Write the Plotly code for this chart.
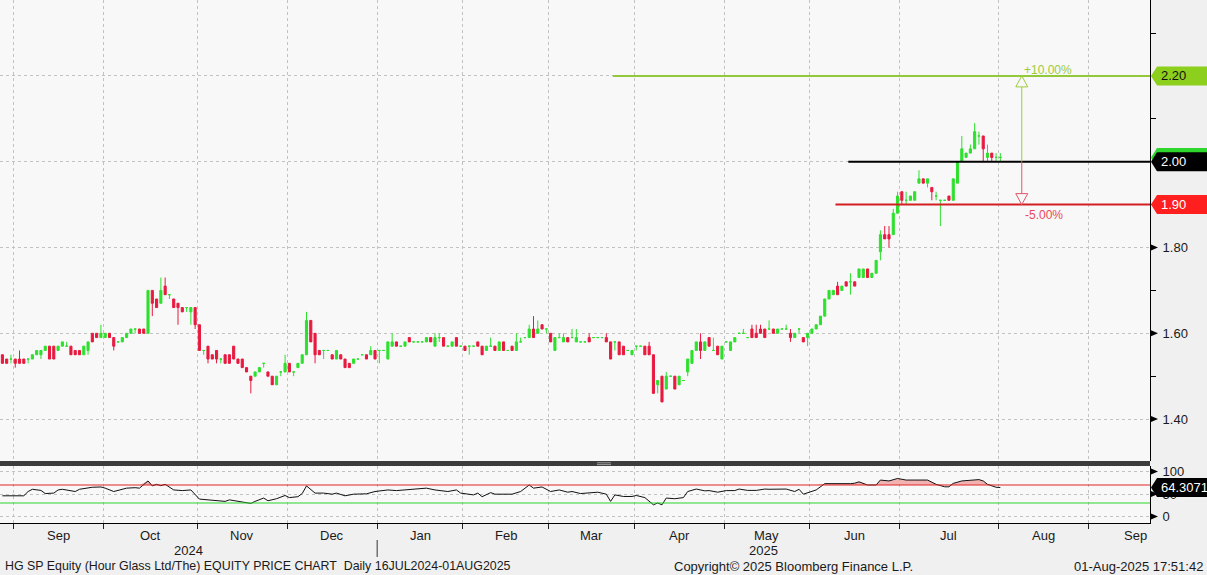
import numpy as np
import pandas as pd
import plotly.graph_objects as go

# ------------------------------------------------------------------ data
# Daily candles, HG SP (Hour Glass Ltd), visible window 28-Aug-2024 .. 01-Aug-2025
open_ = [1.55,1.54,1.54,1.54,1.54,1.54,1.54,1.54,1.55,1.55,1.56,1.57,1.57,1.56,1.57,1.57,1.57,1.56,1.56,1.55,
         1.56,1.60,1.60,1.59,1.59,1.60,1.59,1.58,1.58,1.59,1.60,1.61,1.61,1.61,1.60,1.70,1.68,1.67,1.71,1.69,
         1.68,1.67,1.66,1.66,1.65,1.66,1.62,1.56,1.57,1.55,1.56,1.54,1.55,1.55,1.57,1.54,1.54,1.52,1.50,1.50,
         1.51,1.53,1.51,1.50,1.48,1.51,1.51,1.53,1.51,1.52,1.53,1.55,1.63,1.60,1.56,1.56,1.56,1.55,1.54,1.55,
         1.54,1.53,1.53,1.54,1.55,1.55,1.55,1.56,1.56,1.56,1.54,1.57,1.58,1.57,1.57,1.59,1.58,1.58,1.58,1.58,
         1.59,1.57,1.59,1.59,1.57,1.57,1.59,1.57,1.57,1.57,1.57,1.58,1.57,1.56,1.57,1.57,1.56,1.58,1.56,1.57,
         1.56,1.58,1.59,1.59,1.61,1.60,1.62,1.61,1.60,1.56,1.59,1.58,1.59,1.59,1.58,1.58,1.58,1.59,1.59,1.59,
         1.59,1.59,1.58,1.58,1.58,1.57,1.56,1.55,1.57,1.57,1.57,1.57,1.55,1.48,1.50,1.47,1.50,1.50,1.48,1.49,
         1.51,1.53,1.56,1.58,1.56,1.59,1.56,1.57,1.54,1.58,1.56,1.58,1.60,1.60,1.59,1.61,1.60,1.61,1.61,1.61,
         1.61,1.60,1.61,1.61,1.60,1.59,1.61,1.59,1.59,1.60,1.61,1.62,1.64,1.68,1.69,1.71,1.70,1.72,1.72,1.72,
         1.73,1.73,1.75,1.73,1.74,1.79,1.83,1.83,1.83,1.88,1.93,1.91,1.91,1.91,1.95,1.96,1.95,1.94,1.92,1.91,
         1.91,1.92,1.91,1.95,2.00,2.01,2.02,2.03,2.06,2.06,2.01,2.02,2.01,2.01]
high = [1.55,1.54,1.55,1.54,1.56,1.54,1.54,1.55,1.56,1.56,1.57,1.57,1.57,1.57,1.58,1.58,1.57,1.56,1.56,1.57,
        1.58,1.60,1.60,1.62,1.60,1.60,1.59,1.58,1.59,1.60,1.61,1.61,1.61,1.61,1.70,1.70,1.68,1.73,1.73,1.69,
        1.68,1.67,1.66,1.66,1.66,1.66,1.62,1.56,1.57,1.55,1.56,1.54,1.55,1.55,1.57,1.54,1.54,1.52,1.50,1.51,
        1.52,1.53,1.51,1.50,1.50,1.51,1.55,1.53,1.51,1.53,1.55,1.65,1.63,1.60,1.56,1.56,1.56,1.55,1.56,1.55,
        1.54,1.53,1.54,1.54,1.55,1.55,1.57,1.56,1.56,1.56,1.58,1.60,1.58,1.57,1.58,1.59,1.58,1.58,1.58,1.59,
        1.59,1.60,1.60,1.59,1.57,1.58,1.59,1.57,1.57,1.57,1.57,1.58,1.57,1.57,1.59,1.57,1.58,1.58,1.56,1.57,
        1.60,1.59,1.59,1.62,1.64,1.63,1.62,1.61,1.60,1.59,1.60,1.60,1.59,1.61,1.61,1.58,1.58,1.60,1.59,1.59,
        1.59,1.60,1.58,1.58,1.58,1.57,1.56,1.56,1.57,1.57,1.57,1.58,1.55,1.49,1.50,1.51,1.50,1.50,1.50,1.49,
        1.54,1.56,1.58,1.60,1.58,1.59,1.59,1.57,1.57,1.58,1.58,1.59,1.60,1.61,1.59,1.62,1.62,1.62,1.61,1.63,
        1.61,1.61,1.61,1.62,1.61,1.60,1.61,1.59,1.60,1.61,1.62,1.64,1.68,1.70,1.70,1.72,1.71,1.72,1.74,1.72,
        1.75,1.75,1.75,1.74,1.77,1.84,1.85,1.85,1.89,1.93,1.93,1.93,1.92,1.93,1.98,1.96,1.96,1.94,1.93,1.91,
        1.91,1.92,1.96,2.00,2.06,2.02,2.04,2.09,2.07,2.06,2.04,2.02,2.02,2.02]
low = [1.53,1.53,1.53,1.52,1.53,1.53,1.53,1.54,1.55,1.54,1.56,1.54,1.54,1.56,1.57,1.57,1.55,1.55,1.55,1.55,
       1.55,1.58,1.59,1.59,1.59,1.59,1.56,1.58,1.58,1.59,1.60,1.60,1.60,1.60,1.60,1.64,1.66,1.67,1.69,1.68,
       1.66,1.62,1.65,1.65,1.62,1.61,1.56,1.55,1.53,1.54,1.53,1.53,1.53,1.53,1.54,1.53,1.52,1.51,1.46,1.50,
       1.51,1.52,1.50,1.48,1.48,1.50,1.51,1.51,1.50,1.52,1.53,1.55,1.58,1.53,1.55,1.54,1.56,1.54,1.54,1.54,
       1.52,1.52,1.53,1.54,1.55,1.54,1.55,1.54,1.53,1.56,1.54,1.57,1.57,1.57,1.57,1.58,1.58,1.58,1.58,1.58,
       1.58,1.57,1.58,1.57,1.57,1.57,1.57,1.57,1.56,1.55,1.57,1.57,1.55,1.56,1.57,1.56,1.56,1.56,1.56,1.56,
       1.56,1.58,1.59,1.59,1.59,1.60,1.61,1.60,1.58,1.56,1.59,1.58,1.58,1.59,1.58,1.58,1.58,1.58,1.59,1.59,
       1.59,1.58,1.54,1.56,1.55,1.55,1.56,1.55,1.56,1.57,1.55,1.55,1.46,1.46,1.44,1.47,1.50,1.47,1.48,1.49,
       1.50,1.53,1.56,1.54,1.56,1.57,1.56,1.55,1.54,1.58,1.56,1.58,1.60,1.60,1.59,1.59,1.59,1.60,1.59,1.61,
       1.60,1.60,1.61,1.61,1.58,1.59,1.60,1.58,1.57,1.60,1.61,1.62,1.64,1.68,1.69,1.69,1.70,1.71,1.69,1.71,
       1.73,1.73,1.73,1.73,1.74,1.77,1.82,1.80,1.83,1.88,1.90,1.90,1.91,1.91,1.95,1.95,1.94,1.91,1.91,1.85,
       1.91,1.91,1.91,1.95,2.00,2.01,2.02,2.03,2.04,2.00,2.00,2.00,2.00,2.00]
close = [1.53,1.53,1.54,1.53,1.53,1.53,1.54,1.55,1.56,1.56,1.57,1.54,1.54,1.57,1.58,1.57,1.55,1.55,1.55,1.57,
         1.58,1.58,1.59,1.60,1.60,1.59,1.57,1.58,1.59,1.60,1.61,1.61,1.60,1.60,1.70,1.67,1.66,1.70,1.69,1.69,
         1.66,1.66,1.65,1.66,1.66,1.62,1.56,1.56,1.54,1.54,1.54,1.54,1.53,1.53,1.54,1.53,1.52,1.51,1.49,1.51,
         1.52,1.53,1.50,1.48,1.50,1.51,1.53,1.51,1.51,1.53,1.55,1.63,1.58,1.55,1.55,1.56,1.56,1.54,1.56,1.54,
         1.52,1.52,1.54,1.54,1.55,1.54,1.56,1.54,1.56,1.56,1.58,1.58,1.57,1.57,1.58,1.58,1.58,1.58,1.58,1.59,
         1.58,1.59,1.59,1.57,1.57,1.58,1.57,1.57,1.56,1.57,1.57,1.57,1.55,1.57,1.57,1.56,1.58,1.56,1.56,1.56,
         1.58,1.58,1.59,1.61,1.59,1.61,1.61,1.61,1.58,1.59,1.59,1.59,1.58,1.59,1.59,1.58,1.58,1.58,1.59,1.59,
         1.59,1.58,1.54,1.58,1.55,1.55,1.56,1.56,1.57,1.57,1.55,1.55,1.46,1.49,1.44,1.50,1.50,1.47,1.50,1.49,
         1.54,1.56,1.58,1.56,1.58,1.57,1.56,1.55,1.57,1.58,1.58,1.59,1.60,1.60,1.59,1.59,1.59,1.60,1.59,1.61,
         1.60,1.61,1.61,1.61,1.59,1.60,1.61,1.58,1.60,1.61,1.62,1.64,1.68,1.70,1.70,1.69,1.71,1.71,1.72,1.71,
         1.75,1.75,1.73,1.74,1.77,1.83,1.82,1.82,1.88,1.92,1.91,1.91,1.92,1.93,1.96,1.95,1.96,1.93,1.92,1.91,
         1.91,1.91,1.96,2.00,2.03,2.02,2.03,2.07,2.06,2.03,2.02,2.01,2.01,2.01]

# RSI(14): candle number -> value
rsi_day = [0,5,6,7,9,10,12,13,14,16,17,18,20,21,23,24,26,27,29,31,32,34,35,36,37,38,39,40,42,44,
           46,48,50,52,53,55,58,59,61,62,64,66,67,69,70,71,73,75,77,78,80,82,85,87,90,92,95,98,99,101,
           104,106,107,110,111,112,114,115,119,121,123,124,126,128,130,132,133,135,138,139,141,142,143,145,147,148,150,152,153,154,
           155,157,159,160,162,164,165,167,169,171,172,174,176,178,179,181,183,185,186,187,189,190,192,194,196,198,199,200,202,204,
           205,207,209,211,213,215,216,218,220,221,222,224,226,228,229,230,232,233]
rsi_value = [46,46,55.5,60.5,58,51,52,59,60.5,57,55.5,60.5,63,65,65.6,63,55.5,58,63,64,63,79,68,71.5,68.5,71.5,66,59,57.6,59,
             38.7,37,35,33.6,37,33.6,29,33.6,41,35,39.5,46.7,42,44,51,68,52,52,49.6,52,46,49.6,50.4,55.5,59,57.6,60,61,63,59,
             55.5,59,52,48,52,44,53,49.6,49.6,55.5,70,63,65.6,55.5,59,54,55.5,51,54,54,49.6,33.6,48,44.5,44.5,46.7,42,26,30,26,
             41,39.5,42,55.5,61,57,57.6,54,57.6,57.6,61,58,58,61,60.5,60.5,61,55.5,60.5,49.6,55.5,59,73,73,71.5,73,74,77,70,70,
             81,79,84.5,81,81,82,81,71.5,66,66,73.6,79,80,82,79,71.5,65,64.3071]

sg_holidays = ["2024-10-31", "2024-12-25", "2025-01-01", "2025-01-29", "2025-01-30",
               "2025-03-31", "2025-04-18", "2025-05-01", "2025-05-12"]
month_names = ["Jan", "Feb", "Mar", "Apr", "May", "Jun", "Jul", "Aug", "Sep", "Oct", "Nov", "Dec"]

# user-drawn levels: (price, start date, line colour, label text, label text colour, label fill)
levels = [(2.20, "2025-03-24", "#93c83a", "2.20", "#111111", "#8ccf1c"),
          (2.00, "2025-06-13", "#000000", "2.00", "#ffffff", "#000000"),
          (1.90, "2025-06-10", "#d41f22", "1.90", "#ffffff", "#ff1f1f")]
arrow_date = "2025-08-08"
arrow_up_text, arrow_dn_text = "+10.00%", "-5.00%"
rsi_upper, rsi_lower = 70, 30
rsi_last_text = "64.3071"

footer_left = "HG SP Equity (Hour Glass Ltd/The) EQUITY PRICE CHART\u00a0\u00a0Daily 16JUL2024-01AUG2025"
footer_mid = "Copyright\u00a9 2025 Bloomberg Finance L.P."
footer_right = "01-Aug-2025 17:51:42"

# ------------------------------------------------------------------ calendar (trading-day axis)
cal = pd.bdate_range("2024-08-28", "2025-10-31")
cal = cal[~cal.isin(pd.to_datetime(sg_holidays))]
N = len(close)
days = np.arange(N)
pos_of = {d.strftime("%Y-%m-%d"): i for i, d in enumerate(cal)}

view = [-0.56, 267.94]          # visible window in trading-day units

bounds = []
for i in range(1, len(cal)):
    if cal[i].month != cal[i - 1].month:
        bounds.append((i - 0.5, cal[i]))
bvals = [b for b, _ in bounds]

# ------------------------------------------------------------------ figure
GREEN = "#2ee02e"
RED = "#e8193f"
FONT = "Liberation Sans, Arial, sans-serif"
H_PLOT = 523.0


def py(p):  # pixel row -> paper y
    return (H_PLOT - p) / H_PLOT


fig = go.Figure()

up = [i for i in range(N) if close[i] >= open_[i]]
dn = [i for i in range(N) if close[i] < open_[i]]
for idxs, col in ((up, GREEN), (dn, RED)):
    fig.add_trace(go.Candlestick(
        x=[days[i] for i in idxs],
        open=[open_[i] for i in idxs], high=[high[i] for i in idxs],
        low=[low[i] for i in idxs], close=[close[i] for i in idxs],
        increasing=dict(line=dict(color=col, width=1), fillcolor=col),
        decreasing=dict(line=dict(color=col, width=1), fillcolor=col),
        whiskerwidth=0, hoverinfo="skip", xaxis="x", yaxis="y"))

# RSI panel
fig.add_trace(go.Scatter(x=rsi_day, y=[rsi_upper] * len(rsi_day), mode="lines",
                         line=dict(width=0, color="rgba(0,0,0,0)"), xaxis="x2", yaxis="y2", hoverinfo="skip"))
fig.add_trace(go.Scatter(x=rsi_day, y=[max(v, rsi_upper) for v in rsi_value], mode="lines",
                         line=dict(width=0, color="rgba(0,0,0,0)"), fill="tonexty",
                         fillcolor="rgba(240,140,140,0.65)", xaxis="x2", yaxis="y2", hoverinfo="skip"))
fig.add_trace(go.Scatter(x=rsi_day, y=rsi_value, mode="lines", line=dict(color="#111111", width=1),
                         xaxis="x2", yaxis="y2", hoverinfo="skip"))

grid = dict(showgrid=True, gridcolor="#c2c2c2", griddash="dot", gridwidth=1, zeroline=False)

main_lo = 1.6 - (461 - 333.3) / 429.0
main_hi = 1.6 + 333.3 / 429.0
rsi_lo = rsi_lower - (523 - 503) / 0.45
rsi_hi = rsi_upper + (485 - 466) / 0.45

fig.update_layout(
    width=1207, height=575, margin=dict(l=0, r=57, t=0, b=52),
    paper_bgcolor="#f0f0f0", plot_bgcolor="#f8f8f8", showlegend=False, boxgap=0.3,
    font=dict(family=FONT, size=13, color="#1a1a1a"),
    xaxis=dict(domain=[0, 1], anchor="y", range=view, tickvals=bvals, showticklabels=False,
               ticks="", rangeslider=dict(visible=False), fixedrange=True, **grid),
    yaxis=dict(domain=[py(461), 1], anchor="x", side="right", range=[main_lo, main_hi],
               tickvals=[1.4, 1.6, 1.8, 2.0, 2.2], ticktext=["1.40", "1.60", "1.80", "", ""],
               ticks="", showline=True, linecolor="#000000", linewidth=1, ticklabelstandoff=9,
               minor=dict(tickvals=[1.5, 1.7, 1.9, 2.1, 2.3], ticks="outside", ticklen=5,
                          tickcolor="#000000", showgrid=False),
               tickfont=dict(size=13, color="#1a1a1a"), automargin=False, **grid),
    xaxis2=dict(domain=[0, 1], anchor="y2", range=view, tickvals=bvals, showticklabels=False,
                ticks="outside", ticklen=5, tickcolor="#222222", showline=True, linecolor="#000000",
                linewidth=1, matches="x", **grid),
    yaxis2=dict(domain=[0, py(466)], anchor="x2", side="right", range=[rsi_lo, rsi_hi],
                tickvals=[0, 50, 100], ticktext=["0", "50", "100"], ticks="", showline=True,
                linecolor="#000000", linewidth=1, ticklabelstandoff=9,
                tickfont=dict(size=13, color="#1a1a1a"), automargin=False, **grid),
)

shapes = []
annotations = []

# separator bar between panels
shapes.append(dict(type="rect", xref="paper", yref="paper", x0=0, x1=1, y0=py(466), y1=py(461),
                   fillcolor="#3c3c3c", line=dict(width=0), layer="above"))
for yy in (462.8, 464.6):
    shapes.append(dict(type="line", xref="paper", yref="paper", x0=597 / 1150, x1=611 / 1150,
                       y0=py(yy), y1=py(yy), line=dict(color="#9a9a9a", width=1), layer="above"))

# RSI reference lines
shapes.append(dict(type="line", xref="paper", yref="y2", x0=0, x1=1, y0=rsi_upper, y1=rsi_upper,
                   line=dict(color="#e02424", width=1)))
shapes.append(dict(type="line", xref="paper", yref="y2", x0=0, x1=1, y0=rsi_lower, y1=rsi_lower,
                   line=dict(color="#2ad42a", width=1)))

# drawn horizontal levels
for price, start, col, txt, tcol, bcol in levels:
    shapes.append(dict(type="line", xref="x", yref="y", x0=pos_of[start] - 0.5, x1=view[1],
                       y0=price, y1=price, line=dict(color=col, width=2)))

# measurement arrow
ax = pos_of[arrow_date]
head = 11 / 429.0
p_hi, p_mid, p_lo = levels[0][0], levels[1][0], levels[2][0]
shapes.append(dict(type="line", xref="x", yref="y", x0=ax, x1=ax, y0=p_hi - head, y1=p_mid,
                   line=dict(color="#9ccc3c", width=1)))
shapes.append(dict(type="line", xref="x", yref="y", x0=ax, x1=ax, y0=p_mid, y1=p_lo + head,
                   line=dict(color="#e0566a", width=1)))
shapes.append(dict(type="path", xref="x", yref="y", xsizemode="pixel", ysizemode="pixel",
                   xanchor=ax, yanchor=p_hi, path="M0,0 L-6,-11 L6,-11 Z",
                   fillcolor="#f8f8f8", line=dict(color="#9ccc3c", width=1)))
shapes.append(dict(type="path", xref="x", yref="y", xsizemode="pixel", ysizemode="pixel",
                   xanchor=ax, yanchor=p_lo, path="M0,0 L-6,11 L6,11 Z",
                   fillcolor="#f8f8f8", line=dict(color="#e0566a", width=1)))
annotations.append(dict(xref="x", yref="y", x=ax, y=p_hi, text=arrow_up_text, showarrow=False,
                        xanchor="left", yanchor="bottom", xshift=0, yshift=-3,
                        font=dict(size=12, color="#9ccc3c", family=FONT)))
annotations.append(dict(xref="x", yref="y", x=ax, y=p_lo, text=arrow_dn_text, showarrow=False,
                        xanchor="left", yanchor="top", xshift=1, yshift=-1,
                        font=dict(size=12, color="#e8485a", family=FONT)))

# axis tick arrowheads
for yref, vals in (("y", [1.4, 1.6, 1.8]), ("y2", [0, 50, 100])):
    for v in vals:
        shapes.append(dict(type="path", xref="paper", yref=yref, xsizemode="pixel", ysizemode="pixel",
                           xanchor=1, yanchor=v, path="M1,-3 L1,3 L8,0 Z",
                           fillcolor="#000000", line=dict(width=0), layer="above"))

# right-hand value labels
BOX = "M1,0 L7,9.5 L57,9.5 L57,-9.5 L7,-9.5 Z"


def value_label(yref, v, text, fill, tcol):
    shapes.append(dict(type="path", xref="paper", yref=yref, xsizemode="pixel", ysizemode="pixel",
                       xanchor=1, yanchor=v, path=BOX, fillcolor=fill, line=dict(width=0), layer="above"))
    if text:
        annotations.append(dict(xref="paper", yref=yref, x=1 + 9 / 1150, y=v, text=text, showarrow=False,
                                xanchor="left", yanchor="middle", font=dict(size=13, color=tcol, family=FONT)))


value_label("y", close[-1], "", "#2ed62e", "#ffffff")      # last price tab
for price, start, col, txt, tcol, bcol in levels:
    value_label("y", price, txt, bcol, tcol)
value_label("y2", rsi_value[-1], rsi_last_text, "#000000", "#ffffff")

# month / year labels
for k in range(len(bounds) - 1):
    mid = (bounds[k][0] + bounds[k + 1][0]) / 2
    if view[0] < mid < view[1]:
        annotations.append(dict(xref="x2", yref="paper", x=mid, y=py(526), text=month_names[bounds[k][1].month - 1],
                                showarrow=False, xanchor="center", yanchor="top",
                                font=dict(size=13, color="#1a1a1a", family=FONT)))
jan = [b for b, d in bounds if d.month == 1][0]
for yr, (a, b) in ((2024, (view[0], jan)), (2025, (jan, view[1]))):
    annotations.append(dict(xref="x2", yref="paper", x=(a + b) / 2, y=py(541), text=str(yr), showarrow=False,
                            xanchor="center", yanchor="top", font=dict(size=13, color="#1a1a1a", family=FONT)))
shapes.append(dict(type="line", xref="x2", yref="paper", x0=jan, x1=jan, y0=py(540), y1=py(557),
                   line=dict(color="#333333", width=1)))

# footer
annotations.append(dict(xref="paper", yref="paper", x=3 / 1150, y=py(566), text=footer_left, showarrow=False,
                        xanchor="left", yanchor="middle", font=dict(size=12.4, color="#1a1a1a", family=FONT)))
annotations.append(dict(xref="paper", yref="paper", x=793 / 1150, y=py(566), text=footer_mid, showarrow=False,
                        xanchor="center", yanchor="middle", font=dict(size=13, color="#1a1a1a", family=FONT)))
annotations.append(dict(xref="paper", yref="paper", x=1205 / 1150, y=py(566), text=footer_right, showarrow=False,
                        xanchor="right", yanchor="middle", font=dict(size=13, color="#1a1a1a", family=FONT)))

fig.update_layout(shapes=shapes, annotations=annotations)
fig.write_html("out.html")
